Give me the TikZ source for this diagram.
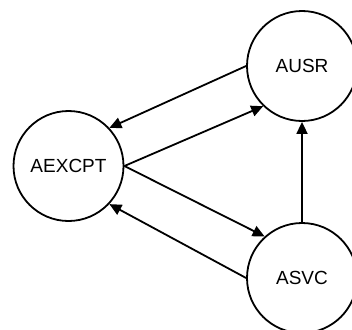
\documentclass[tikz,border=0pt]{standalone}
\usepackage{fontspec}
\setmainfont{Liberation Sans}
\usetikzlibrary{arrows.meta}
\begin{document}
\begin{tikzpicture}[x=1pt,y=-1pt,
  state/.style={circle,draw,line width=1.8pt,minimum size=110pt,inner sep=0pt,font=\fontsize{19}{22}\selectfont},
  conn/.style={line width=1.8pt,-{Triangle[length=12pt,width=11pt]}}]
\useasboundingbox (0,0) rectangle (352,329);
\node[state] (ex) at (68.5,166) {AEXCPT};
\node[state] (usr) at (302,66) {AUSR};
\node[state] (svc) at (302,278) {ASVC};
\draw[conn] (usr.west) -- (ex.43);
\draw[conn] (ex.east) -- (usr.226);
\draw[conn] (ex.east) -- (svc.132);
\draw[conn] (svc.west) -- (ex.317);
\draw[conn] (svc.north) -- (usr.south);
\end{tikzpicture}
\end{document}
